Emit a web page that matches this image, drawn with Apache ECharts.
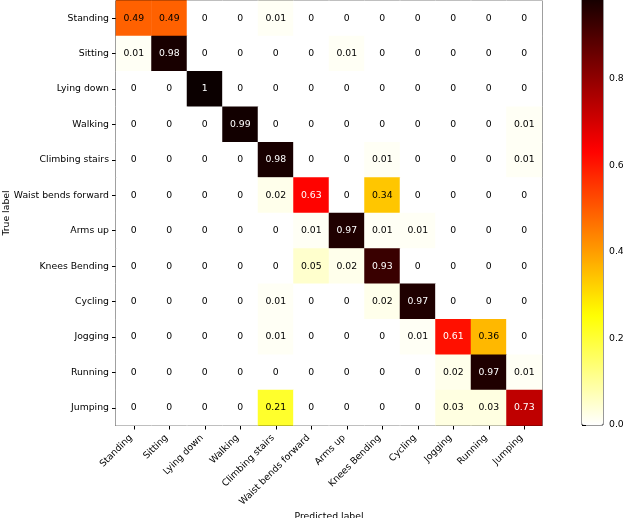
<!DOCTYPE html>
<html lang="en">
<head>
    <meta charset="UTF-8">
    <title>Confusion matrix</title>
    <script src="https://cdn.jsdelivr.net/npm/echarts@6/dist/echarts.min.js"></script>
    <style>
        html, body { margin: 0; padding: 0; background: #fff; }
    </style>
</head>
<body>
    <div id="main" style="width:623px; height:518px"></div>
    <script type="text/javascript">
        // activity classes (rows = true label, columns = predicted label)
        var classes = ['Standing', 'Sitting', 'Lying down', 'Walking', 'Climbing stairs', 'Waist bends forward',
            'Arms up', 'Knees Bending', 'Cycling', 'Jogging', 'Running', 'Jumping'];

        var rowStanding  = [0.49, 0.49, 0, 0, 0.01, 0, 0, 0, 0, 0, 0, 0];
        var rowSitting   = [0.01, 0.98, 0, 0, 0, 0, 0.01, 0, 0, 0, 0, 0];
        var rowLying     = [0, 0, 1, 0, 0, 0, 0, 0, 0, 0, 0, 0];
        var rowWalking   = [0, 0, 0, 0.99, 0, 0, 0, 0, 0, 0, 0, 0.01];
        var rowClimbing  = [0, 0, 0, 0, 0.98, 0, 0, 0.01, 0, 0, 0, 0.01];
        var rowWaist     = [0, 0, 0, 0, 0.02, 0.63, 0, 0.34, 0, 0, 0, 0];
        var rowArms      = [0, 0, 0, 0, 0, 0.01, 0.97, 0.01, 0.01, 0, 0, 0];
        var rowKnees     = [0, 0, 0, 0, 0, 0.05, 0.02, 0.93, 0, 0, 0, 0];
        var rowCycling   = [0, 0, 0, 0, 0.01, 0, 0, 0.02, 0.97, 0, 0, 0];
        var rowJogging   = [0, 0, 0, 0, 0.01, 0, 0, 0, 0.01, 0.61, 0.36, 0];
        var rowRunning   = [0, 0, 0, 0, 0, 0, 0, 0, 0, 0.02, 0.97, 0.01];
        var rowJumping   = [0, 0, 0, 0, 0.21, 0, 0, 0, 0, 0.03, 0.03, 0.73];

        var rows = [rowStanding, rowSitting, rowLying, rowWalking, rowClimbing, rowWaist,
            rowArms, rowKnees, rowCycling, rowJogging, rowRunning, rowJumping];

        var colorbarTicks = [0, 0.2, 0.4, 0.6, 0.8];

        var FONT = 'DejaVu Sans';
        var FS = 9.3;

        // matplotlib "hot_r" colour map, sampled for the visualMap
        function seg(x, a, b) {
            if (x <= a) return 0;
            if (x >= b) return 1;
            return (x - a) / (b - a);
        }
        function hotR(v) {
            var x = 1 - v;
            var r = x < 0.365079 ? 0.0416 + (1 - 0.0416) * x / 0.365079 : 1;
            var g = seg(x, 0.365079, 0.746032);
            var b = seg(x, 0.746032, 1);
            return 'rgb(' + Math.round(r * 255) + ',' + Math.round(g * 255) + ',' + Math.round(b * 255) + ')';
        }
        var hotColors = [];
        for (var k = 0; k <= 60; k++) hotColors.push(hotR(k / 60));

        var cells = [];
        rows.forEach(function (row, i) {
            row.forEach(function (v, j) {
                cells.push({
                    value: [j, i, v],
                    label: { color: v > 0.5 ? '#fff' : '#000' }
                });
            });
        });

        var chartDom = document.getElementById('main');
        var myChart = echarts.init(chartDom);
        var option = {
            animation: false,
            backgroundColor: '#fff',
            textStyle: { fontFamily: FONT },
            grid: [
                { left: 116, top: 0.5, width: 426, height: 425, outerBoundsMode: 'none', containLabel: false,
                  show: true, borderColor: '#000', borderWidth: 1, backgroundColor: 'transparent' },
                { left: 582, top: -8, width: 21, height: 433, outerBoundsMode: 'none', containLabel: false,
                  show: true, borderColor: '#333', borderWidth: 1, backgroundColor: 'transparent' }
            ],
            xAxis: [
                {
                    type: 'category',
                    data: classes,
                    gridIndex: 0,
                    name: 'Predicted label',
                    nameLocation: 'middle',
                    nameGap: 87,
                    nameMoveOverlap: false,
                    nameTextStyle: { fontFamily: FONT, fontSize: FS, color: '#000' },
                    axisLine: { show: true, lineStyle: { color: '#000' } },
                    axisTick: { show: true, alignWithLabel: true, length: 4, lineStyle: { color: '#000' } },
                    axisLabel: { rotate: 45, interval: 0, margin: 8, padding: [0, 4, 0, 0],
                                 fontFamily: FONT, fontSize: FS, color: '#000' },
                    splitLine: { show: false },
                    splitArea: { show: false }
                },
                { type: 'value', gridIndex: 1, show: false, min: 0, max: 1 }
            ],
            yAxis: [
                {
                    type: 'category',
                    data: classes,
                    inverse: true,
                    gridIndex: 0,
                    name: 'True label',
                    nameLocation: 'middle',
                    nameGap: 105,
                    nameMoveOverlap: false,
                    nameRotate: 90,
                    nameTextStyle: { fontFamily: FONT, fontSize: FS, color: '#000' },
                    axisLine: { show: true, lineStyle: { color: '#000' } },
                    axisTick: { show: true, alignWithLabel: true, length: 4, lineStyle: { color: '#000' } },
                    axisLabel: { interval: 0, margin: 7, fontFamily: FONT, fontSize: FS, color: '#000' },
                    splitLine: { show: false },
                    splitArea: { show: false }
                },
                {
                    type: 'value',
                    gridIndex: 1,
                    position: 'right',
                    min: 0,
                    max: 1,
                    interval: 0.2,
                    axisLine: { show: false },
                    axisTick: { show: true, length: 4, lineStyle: { color: '#000' } },
                    axisLabel: {
                        margin: 6, fontFamily: FONT, fontSize: FS, color: '#000',
                        formatter: function (v) {
                            return colorbarTicks.indexOf(Math.round(v * 10) / 10) >= 0 ? v.toFixed(1) : '';
                        }
                    },
                    splitLine: { show: false }
                }
            ],
            visualMap: {
                type: 'continuous',
                seriesIndex: 0,
                min: 0,
                max: 1,
                calculable: false,
                orient: 'vertical',
                left: 582,
                top: -8,
                itemWidth: 21,
                itemHeight: 433,
                padding: 0,
                text: null,
                showLabel: false,
                hoverLink: false,
                inRange: { color: hotColors },
                z: 1
            },
            series: [
                {
                    type: 'heatmap',
                    xAxisIndex: 0,
                    yAxisIndex: 0,
                    data: cells,
                    label: {
                        show: true,
                        fontFamily: FONT,
                        fontSize: FS,
                        formatter: function (p) { return String(p.value[2]); }
                    },
                    itemStyle: { borderWidth: 0 },
                    emphasis: { disabled: true }
                },
                {
                    type: 'scatter',
                    xAxisIndex: 1,
                    yAxisIndex: 1,
                    data: []
                }
            ]
        };

        option && myChart.setOption(option);
    </script>
</body>
</html>
